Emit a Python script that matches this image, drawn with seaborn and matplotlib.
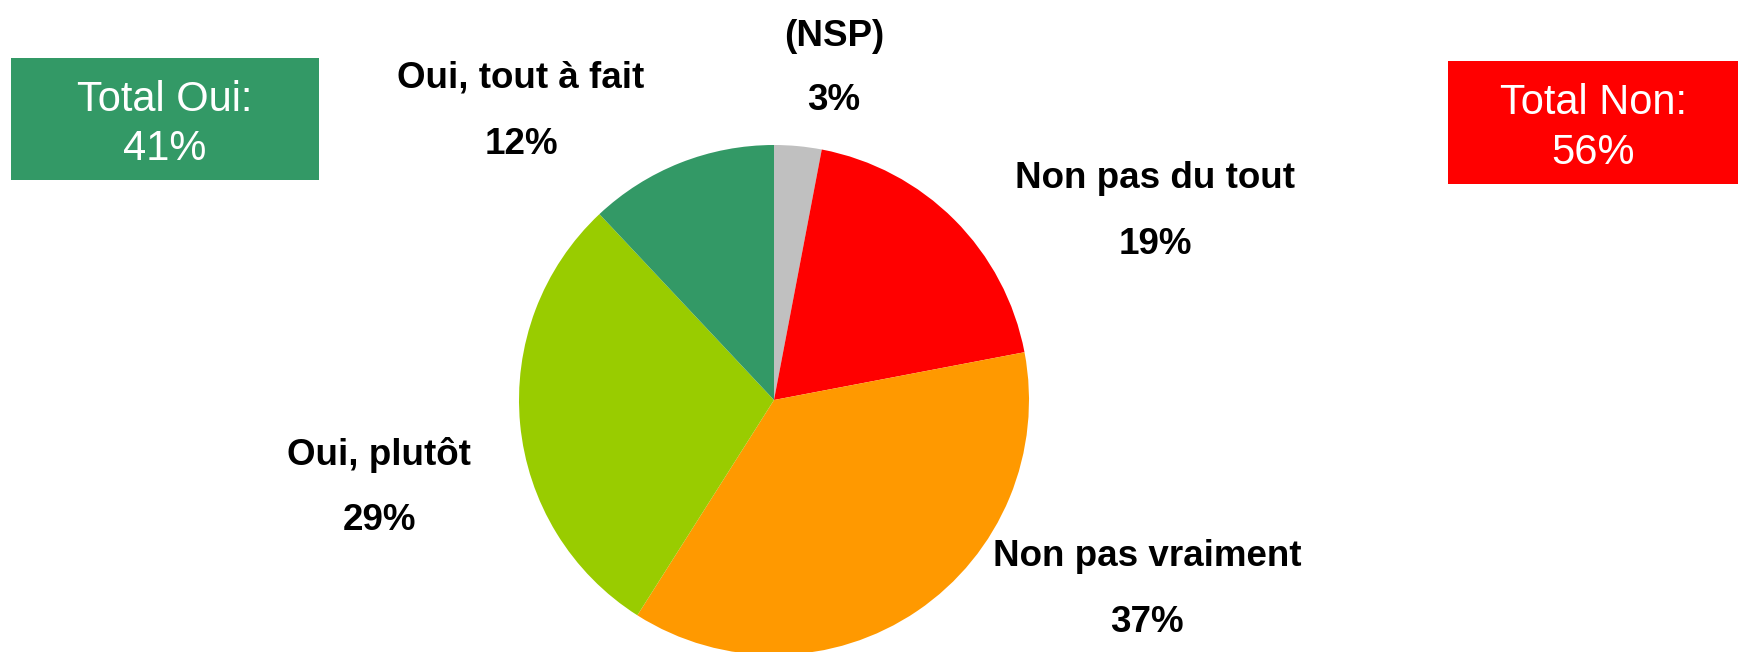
import matplotlib
matplotlib.use("Agg")
import matplotlib.pyplot as plt
from matplotlib.patches import Rectangle
import seaborn as sns

# data, clockwise from the top
categories = ["(NSP)", "Non pas du tout", "Non pas vraiment", "Oui, plutôt", "Oui, tout à fait"]
shares = [3, 19, 37, 29, 12]
slice_colors = ["#C0C0C0", "#FF0000", "#FF9900", "#99CC00", "#339966"]

total_labels = ["Total Oui:", "Total Non:"]
total_values = [41, 56]
total_colors = ["#339966", "#FF0000"]

# layout (pixel coords, y measured from top)
W, H = 1738, 652
PIE_CENTER = (774, 400)
PIE_RADIUS = 255
label_pos = [(834, 36), (1155, 178), (1147, 557), (379, 455), (521, 78)]
value_pos = [(834, 101), (1155, 244), (1147, 623), (379, 521), (521, 144)]
box_rects = [(11, 58, 308, 122), (1448, 61, 290, 123)]

sns.set_theme(style="white")
plt.rcParams['font.family'] = ['Liberation Sans', 'DejaVu Sans']

fig = plt.figure(figsize=(W / 100, H / 100), dpi=100)
ax = fig.add_axes([0, 0, 1, 1])
ax.set_xlim(0, W)
ax.set_ylim(0, H)
ax.set_aspect("equal")
ax.axis("off")

ax.pie(shares, colors=sns.color_palette(slice_colors), startangle=90, counterclock=False,
       center=(PIE_CENTER[0], H - PIE_CENTER[1]), radius=PIE_RADIUS,
       wedgeprops=dict(linewidth=0))
ax.set_xlim(0, W)
ax.set_ylim(0, H)

for cat, val, (lx, ly), (vx, vy) in zip(categories, shares, label_pos, value_pos):
    ax.text(lx, H - ly, cat, ha="center", va="center", fontsize=26.5, fontweight="bold", color="black")
    ax.text(vx, H - vy, f"{val}%", ha="center", va="center", fontsize=26.5, fontweight="bold", color="black")

for lab, val, col, (x, y, w, h) in zip(total_labels, total_values, total_colors, box_rects):
    ax.add_patch(Rectangle((x, H - y - h), w, h, facecolor=col, edgecolor="none"))
    cx = x + w / 2
    ax.text(cx, H - (y + h * 0.32 + 3), lab, ha="center", va="center", fontsize=30, color="white")
    ax.text(cx, H - (y + h * 0.72 + 3), f"{val}%", ha="center", va="center", fontsize=30, color="white")

plt.savefig("out.png", dpi=100)
plt.close()
